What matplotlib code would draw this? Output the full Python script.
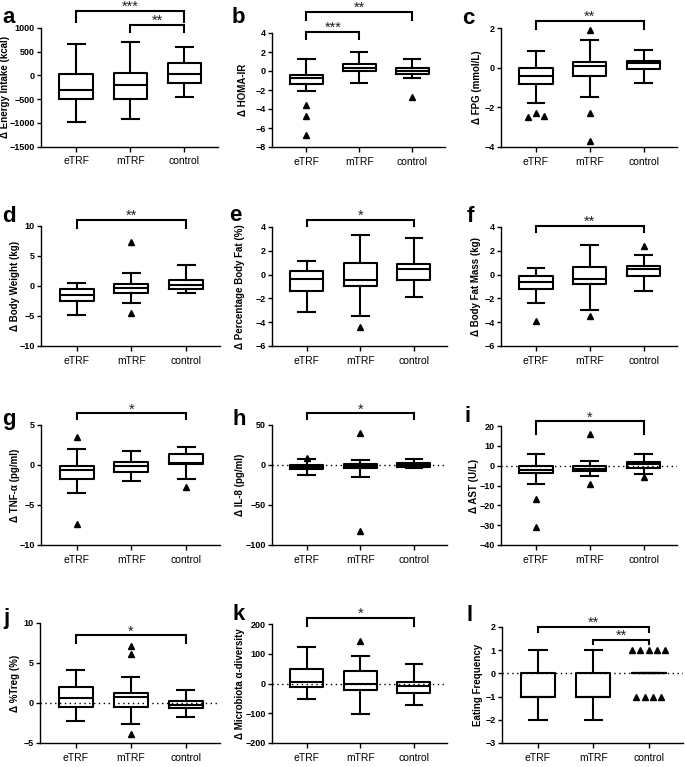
import matplotlib
matplotlib.use("Agg")
import matplotlib.pyplot as plt
import numpy as np

plt.rcParams['font.family'] = ['Liberation Sans', 'DejaVu Sans']

groups = ["eTRF", "mTRF", "control"]
letters = list("abcdefghijkl")

ylabels = ["Δ Energy Intake (kcal)", "Δ HOMA-IR", "Δ FPG (mmol/L)",
           "Δ Body Weight (kg)", "Δ Percentage Body Fat (%)", "Δ Body Fat Mass (kg)",
           "Δ TNF-α (pg/ml)", "Δ IL-8 (pg/ml)", "Δ AST (U/L)",
           "Δ %Treg (%)", "Δ Microbiota α-diversity", "Eating Frequency"]

ylims = [(-1500, 1000), (-8, 4), (-4, 2),
         (-10, 10), (-6, 4), (-6, 4),
         (-10, 5), (-100, 50), (-40, 20),
         (-5, 10), (-200, 200), (-3, 2)]
ysteps = [500, 2, 2, 5, 2, 2, 5, 50, 10, 5, 100, 1]

# [whisker low, Q1, median, Q3, whisker high] for eTRF, mTRF, control
stats_a = [[-980, -500, -310, 30, 650], [-910, -500, -210, 50, 700], [-450, -170, 20, 260, 600]]
stats_b = [[-2.1, -1.33, -0.75, -0.46, 1.3], [-1.23, -0.04, 0.35, 0.77, 2.0], [-0.7, -0.35, 0.04, 0.32, 1.3]]
stats_c = [[-1.8, -0.82, -0.42, -0.03, 0.82], [-1.5, -0.40, 0.06, 0.31, 1.41], [-0.79, -0.06, 0.23, 0.36, 0.9]]
stats_d = [[-4.87, -2.53, -1.42, -0.58, 0.53], [-2.76, -1.09, -0.36, 0.31, 2.2], [-1.09, -0.58, 0.2, 0.97, 3.48]]
stats_e = [[-3.14, -1.41, -0.34, 0.27, 1.11], [-3.5, -0.99, -0.43, 1.0, 3.3], [-1.88, -0.43, 0.44, 0.92, 3.08]]
stats_f = [[-2.37, -1.21, -0.65, -0.11, 0.54], [-2.99, -0.82, -0.37, 0.62, 2.51], [-1.35, -0.11, 0.45, 0.73, 1.66]]
stats_g = [[-3.46, -1.75, -0.63, -0.13, 2.0], [-1.96, -0.92, -0.08, 0.42, 1.79], [-1.75, 0.08, 0.29, 1.33, 2.25]]
stats_h = [[-12, -5.4, -2.5, 0, 7], [-14.6, -4.2, -1.25, 0.8, 6.25], [-3.3, -2.1, 0, 2.1, 7.1]]
stats_i = [[-9.0, -3.45, -1.94, -0.27, 6.1], [-5.1, -2.78, -1.44, -0.27, 2.25], [-3.95, -0.94, 0.74, 1.9, 6.1]]
stats_j = [[-2.2, -0.46, 0.58, 2.03, 4.11], [-2.61, -0.46, 0.79, 1.29, 3.28], [-1.78, -0.66, -0.25, 0.25, 1.62]]
stats_k = [[-52, -11.8, 4, 48.7, 122.7], [-101, -20.7, -0.6, 41, 93.6], [-73, -32, -9.5, 5, 66.7]]
stats_l = [[-2, -1, -1, 0, 1], [-2, -1, -1, 0, 1], [0, 0, 0, 0, 0]]
all_stats = [stats_a, stats_b, stats_c, stats_d, stats_e, stats_f,
             stats_g, stats_h, stats_i, stats_j, stats_k, stats_l]

# outliers per group
out_a = [[], [], []]
out_b = [[-3.54, -4.74, -6.7], [], [-2.74]]
out_c = [[-2.48, -2.31, -2.43], [1.92, -2.31, -3.71], []]
out_d = [[], [7.27, -4.43], []]
out_e = [[], [-4.4], []]
out_f = [[-3.92], [-3.49], [2.37]]
out_g = [[3.54, -7.42], [], [-2.71]]
out_h = [[9], [39.6, -82.5], []]
out_i = [[-17.0, -31.1], [15.8, -9.0], [-5.96]]
out_j = [[], [7.1, 6.1, -3.86], []]
out_k = [[], [144], []]
out_l = [[], [], [1, 1, 1, 1, 1, -1, -1, -1, -1]]
all_out = [out_a, out_b, out_c, out_d, out_e, out_f,
           out_g, out_h, out_i, out_j, out_k, out_l]

# significance brackets: (group i, group j, bar height, leg end, label)
br_a = [(0, 2, 1350, 1120, "***"), (1, 2, 1057, 910, "**")]
br_b = [(0, 2, 6.2, 5.4, "**"), (0, 1, 4.1, 3.4, "***")]
br_c = [(0, 2, 2.35, 1.95, "**")]
br_d = [(0, 2, 11.0, 9.6, "**")]
br_e = [(0, 2, 4.62, 4.06, "*")]
br_f = [(0, 2, 4.1, 3.55, "**")]
br_g = [(0, 2, 6.46, 5.7, "*")]
br_h = [(0, 2, 64.6, 57, "*")]
br_i = [(0, 2, 22.3, 15.8, "*")]
br_j = [(0, 2, 8.46, 7.5, "*")]
br_k = [(0, 2, 220, 194, "*")]
br_l = [(0, 2, 2.0, 1.78, "**"), (1, 2, 1.45, 1.25, "**")]
all_br = [br_a, br_b, br_c, br_d, br_e, br_f, br_g, br_h, br_i, br_j, br_k, br_l]

zero_line = [False, False, False, False, False, False,
             False, True, True, True, True, True]

# layout (pixels): left, right, top, bottom of each axes
W, H = 685, 767
boxes_px = [(41, 218, 27.7, 146.7), (272, 445, 33, 147), (501, 677, 28, 147),
            (41, 220, 226, 346), (272, 447, 227, 346), (501, 677, 227, 346),
            (41, 220, 425, 545), (272, 447, 425, 545), (501, 677, 426, 545),
            (40, 220, 623, 743), (272, 447, 624, 743), (502, 683, 627, 743)]
letter_px = [(2, 23), (232, 23), (462, 24),
             (2, 222), (229, 221), (467, 222),
             (2, 425), (233, 425), (465, 422),
             (3, 624), (233, 620), (466, 621)]
# distance (px) from left spine to y-label centre
ylabel_off = [36, 29, 24, 26, 32, 25, 26, 32, 27, 25, 32, 24]


def spread(vals, yrange, step=0.15, tol=0.03):
    xs = np.zeros(len(vals))
    used = [False] * len(vals)
    for i in range(len(vals)):
        if used[i]:
            continue
        cl = [j for j in range(len(vals)) if not used[j] and abs(vals[j] - vals[i]) <= tol * yrange]
        n = len(cl)
        for k, j in enumerate(cl):
            xs[j] = (k - (n - 1) / 2) * step
            used[j] = True
    return xs


fig = plt.figure(figsize=(W / 100, H / 100), dpi=100)

for p in range(12):
    L, R, T, B = boxes_px[p]
    ax = fig.add_axes([L / W, 1 - B / H, (R - L) / W, (B - T) / H])
    ymin, ymax = ylims[p]
    stats = [dict(whislo=s[0], q1=s[1], med=s[2], q3=s[3], whishi=s[4], fliers=[])
             for s in all_stats[p]]
    lp = dict(color='black', lw=1.5)
    ax.bxp(stats, positions=[0, 1, 2], widths=0.62, capwidths=0.31, showfliers=False,
           boxprops=lp, whiskerprops=lp, capprops=lp, medianprops=lp,
           manage_ticks=False, zorder=2)
    for g, vals in enumerate(all_out[p]):
        if not vals:
            continue
        dx = spread(vals, ymax - ymin)
        ax.plot(g + dx, vals, linestyle='none', marker='^', color='black',
                markersize=4.5, zorder=4, clip_on=False)
    if zero_line[p]:
        ax.axhline(0, color='black', lw=1.0, ls=(0, (1, 2.5)), zorder=3)
    for (i, j, yb, yl, lab) in all_br[p]:
        ax.plot([i, i, j, j], [yl, yb, yb, yl], color='black', lw=1.5,
                clip_on=False, solid_joinstyle='miter', zorder=5)
        ax.text((i + j) / 2, yb, lab, ha='center', va='baseline', fontsize=10.5,
                color='#222222', clip_on=False)
    ax.set_xlim(-0.65, 2.62)
    ax.set_ylim(ymin, ymax)
    ax.set_yticks(np.arange(ymin, ymax + ysteps[p] * 0.01, ysteps[p]))
    ax.set_xticks([0, 1, 2])
    ax.set_xticklabels(groups, fontsize=7.5)
    for t in ax.get_yticklabels():
        t.set_fontweight('bold')
        t.set_fontsize(6.5)
    ax.tick_params(axis='y', direction='out', length=3, width=1.0, pad=1.5)
    ax.tick_params(axis='x', direction='out', length=3.5, width=1.0, pad=3.5)
    for s in ['top', 'right']:
        ax.spines[s].set_visible(False)
    for s in ['left', 'bottom']:
        ax.spines[s].set_linewidth(1.0)
    ax.set_ylabel(ylabels[p], fontsize=7.0, fontweight='bold', va='center')
    ax.yaxis.set_label_coords(-ylabel_off[p] / (R - L), 0.5)
    lx, ly = letter_px[p]
    fig.text(lx / W, 1 - ly / H, letters[p], fontsize=16, fontweight='bold',
             ha='left', va='baseline')

fig.savefig("out.png", dpi=100)
